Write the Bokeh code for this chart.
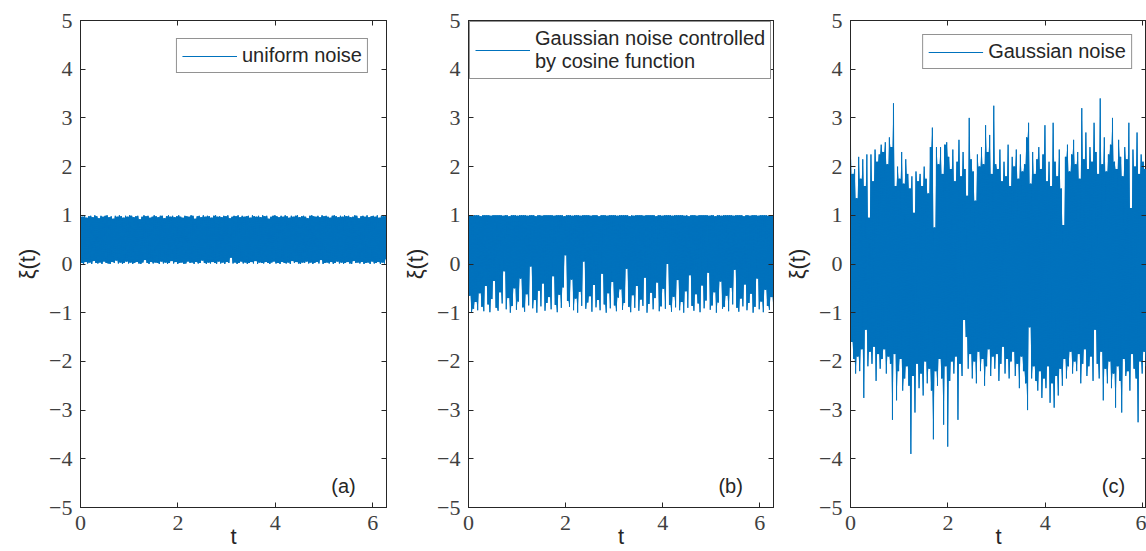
import numpy as np
from bokeh.embed import file_html
from bokeh.layouts import row
from bokeh.models import (CustomJSTickFormatter, FixedTicker, Label, Legend,
                          LegendItem, LinearAxis, Range1d)
from bokeh.plotting import figure
from bokeh.resources import INLINE

# ---------------------------------------------------------------------------
# Noise records over one period t in [0, 2*pi].  Each record is stored as its
# upper and lower excursions (150 each); they are interleaved into one trace.
# ---------------------------------------------------------------------------
x_ticks = [0, 2, 4, 6]
y_ticks = [-5, -4, -3, -2, -1, 0, 1, 2, 3, 4, 5]
legend_labels = ["uniform noise",
                 "Gaussian noise controlled\nby cosine function",
                 "Gaussian noise"]
panel_tags = ["(a)", "(b)", "(c)"]
x_title = "t"
y_title = "\u03be(t)"

uniform_hi = [
    0.99, 0.97, 1.00, 0.95, 0.98, 0.99, 0.96, 1.00, 0.98, 0.94,
    0.99, 0.97, 0.99, 1.00, 0.96, 0.98, 0.93, 0.99, 0.97, 1.00,
    0.98, 0.95, 0.99, 0.97, 1.00, 0.99, 0.96, 0.98, 0.99, 0.92,
    0.97, 1.00, 0.98, 0.99, 0.95, 0.97, 1.00, 0.98, 0.96, 0.99,
    0.99, 0.94, 0.98, 1.00, 0.97, 0.99, 0.96, 0.98, 1.00, 0.97,
    0.95, 0.99, 0.98, 0.97, 1.00, 0.99, 0.93, 0.98, 0.99, 0.96,
    1.00, 0.97, 0.99, 0.98, 0.95, 0.99, 1.00, 0.97, 0.98, 0.96,
    0.99, 0.98, 1.00, 0.94, 0.97, 0.99, 0.98, 1.00, 0.96, 0.99,
    0.97, 0.98, 0.99, 0.95, 1.00, 0.98, 0.97, 0.99, 0.96, 1.00,
    0.98, 0.99, 0.93, 0.97, 0.99, 1.00, 0.98, 0.96, 0.99, 0.97,
    1.00, 0.98, 0.95, 0.99, 0.97, 0.99, 1.00, 0.96, 0.98, 0.99,
    0.97, 0.94, 0.99, 1.00, 0.98, 0.97, 0.99, 0.96, 1.00, 0.98,
    0.99, 0.97, 0.95, 0.99, 1.00, 0.98, 0.96, 0.99, 0.97, 1.00,
    0.98, 0.99, 0.96, 0.97, 1.00, 0.99, 0.94, 0.98, 0.99, 0.97,
    1.00, 0.96, 0.98, 0.99, 0.97, 1.00, 0.95, 0.99, 0.98, 0.99,
]
uniform_lo = [
    0.02, 0.00, 0.04, 0.01, 0.03, 0.00, 0.06, 0.02, 0.01, 0.03,
    0.00, 0.05, 0.02, 0.01, 0.00, 0.04, 0.02, 0.07, 0.01, 0.03,
    0.00, 0.02, 0.05, 0.01, 0.03, 0.00, 0.02, 0.04, 0.01, 0.00,
    0.03, 0.08, 0.02, 0.00, 0.04, 0.01, 0.03, 0.02, 0.00, 0.05,
    0.01, 0.03, 0.00, 0.02, 0.06, 0.01, 0.04, 0.00, 0.02, 0.03,
    0.00, 0.01, 0.05, 0.02, 0.03, 0.00, 0.04, 0.01, 0.02, 0.07,
    0.02, 0.00, 0.03, 0.01, 0.04, 0.02, 0.00, 0.05, 0.01, 0.03,
    0.00, 0.04, 0.02, 0.13, 0.01, 0.03, 0.00, 0.02, 0.05, 0.01,
    0.03, 0.00, 0.02, 0.04, 0.01, 0.06, 0.00, 0.03, 0.02, 0.01,
    0.04, 0.02, 0.00, 0.03, 0.05, 0.01, 0.02, 0.00, 0.04, 0.02,
    0.01, 0.03, 0.00, 0.06, 0.02, 0.04, 0.01, 0.00, 0.03, 0.02,
    0.05, 0.01, 0.03, 0.00, 0.02, 0.04, 0.01, 0.08, 0.00, 0.02,
    0.03, 0.01, 0.04, 0.00, 0.02, 0.05, 0.01, 0.03, 0.00, 0.02,
    0.04, 0.01, 0.00, 0.06, 0.02, 0.03, 0.01, 0.04, 0.00, 0.02,
    0.03, 0.00, 0.05, 0.01, 0.02, 0.04, 0.00, 0.03, 0.01, 0.10,
]

cosine_hi = [
    1.00, 1.00, 0.99, 1.00, 1.00, 1.00, 0.98, 1.00, 1.00, 1.00,
    1.00, 0.99, 1.00, 1.00, 1.00, 1.00, 1.00, 0.99, 1.00, 1.00,
    0.98, 1.00, 1.00, 1.00, 0.99, 1.00, 1.00, 1.00, 1.00, 0.99,
    1.00, 1.00, 1.00, 0.98, 1.00, 1.00, 0.99, 1.00, 1.00, 1.00,
    1.00, 1.00, 0.99, 1.00, 1.00, 1.00, 1.00, 0.98, 1.00, 1.00,
    1.00, 0.99, 1.00, 1.00, 1.00, 0.99, 1.00, 1.00, 1.00, 1.00,
    0.99, 1.00, 1.00, 1.00, 0.98, 1.00, 1.00, 1.00, 0.99, 1.00,
    1.00, 1.00, 1.00, 0.99, 1.00, 1.00, 1.00, 1.00, 1.00, 0.98,
    1.00, 0.99, 1.00, 1.00, 1.00, 1.00, 0.99, 1.00, 1.00, 1.00,
    1.00, 1.00, 0.98, 1.00, 1.00, 0.99, 1.00, 1.00, 1.00, 1.00,
    0.99, 1.00, 1.00, 1.00, 1.00, 1.00, 0.99, 1.00, 0.98, 1.00,
    1.00, 1.00, 0.99, 1.00, 1.00, 1.00, 1.00, 1.00, 0.99, 1.00,
    1.00, 0.98, 1.00, 1.00, 0.99, 1.00, 1.00, 1.00, 1.00, 1.00,
    0.99, 1.00, 1.00, 1.00, 1.00, 0.98, 1.00, 1.00, 0.99, 1.00,
    1.00, 1.00, 0.99, 1.00, 1.00, 1.00, 1.00, 0.99, 1.00, 1.00,
]
cosine_lo = [
    -0.65, -1.00, -0.92, -0.78, -0.95, -0.60, -0.88, -0.97, -0.45, -0.83,
    -0.99, -0.72, -0.35, -0.90, -0.96, -0.58, -0.81, -0.15, -0.93, -0.70,
    -1.00, -0.86, -0.50, -0.94, -0.77, -0.30, -0.89, -0.98, -0.62, -0.85,
    -0.05, -0.91, -0.74, -1.00, -0.55, -0.87, -0.40, -0.96, -0.80, -0.68,
    -0.93, -0.25, -0.84, -0.99, -0.63, -0.90, -0.48, 0.18, -0.76, -0.88,
    -0.32, -0.95, -0.71, -1.00, -0.57, -0.86, 0.05, -0.92, -0.79, -0.66,
    -0.98, -0.43, -0.89, -0.74, -0.95, -0.20, -0.83, -1.00, -0.60, -0.91,
    -0.37, -0.85, -0.97, -0.69, -0.52, -0.94, -0.80, -0.10, -0.88, -0.99,
    -0.64, -0.90, -0.45, -0.96, -0.73, -0.86, -0.28, -1.00, -0.82, -0.59,
    -0.93, -0.70, -0.38, -0.97, -0.87, -0.51, -0.92, 0.00, -0.84, -0.98,
    -0.67, -0.89, -0.33, -0.95, -0.78, -1.00, -0.56, -0.90, -0.23, -0.86,
    -0.96, -0.62, -0.81, -0.99, -0.44, -0.91, -0.75, -0.18, -0.94, -0.85,
    -0.58, -1.00, -0.79, -0.36, -0.92, -0.88, -0.65, -0.97, -0.49, -0.83,
    -0.12, -0.90, -0.98, -0.71, -0.87, -0.42, -0.95, -0.80, -0.61, -1.00,
    -0.88, -0.30, -0.93, -0.77, -0.99, -0.53, -0.86, -0.94, -0.68, -0.90,
]

gauss_hi = [
    2.50, 1.85, 1.95, 1.35, 2.20, 1.75, 2.15, 1.60, 2.25, 0.95,
    2.25, 1.70, 2.35, 2.10, 2.25, 2.45, 2.30, 2.50, 2.05, 2.60,
    2.40, 3.30, 1.60, 2.00, 1.75, 2.30, 1.65, 2.15, 1.85, 1.55,
    1.80, 1.05, 1.90, 1.70, 1.85, 1.60, 2.00, 1.75, 1.45, 2.40,
    2.80, 0.75, 2.40, 2.05, 2.40, 1.85, 2.45, 2.50, 2.20, 1.95,
    2.35, 1.70, 2.10, 2.55, 1.80, 2.30, 1.95, 1.40, 3.00, 2.15,
    1.90, 1.30, 2.25, 2.00, 2.40, 2.05, 2.85, 2.30, 2.65, 1.85,
    3.25, 2.05, 1.95, 2.35, 1.70, 2.10, 1.80, 2.45, 1.60, 2.20,
    2.00, 2.35, 1.75, 2.25, 1.90, 2.05, 2.60, 2.90, 1.65, 2.30,
    1.85, 2.15, 2.40, 1.95, 2.25, 2.85, 1.70, 2.10, 1.60, 2.90,
    2.10, 1.80, 2.35, 1.55, 0.80, 2.20, 2.45, 1.90, 2.25, 2.55,
    2.05, 2.30, 1.75, 3.20, 2.15, 2.70, 1.95, 2.40, 2.10, 2.90,
    2.30, 1.85, 3.40, 2.05, 2.60, 1.90, 2.25, 2.45, 3.00, 2.10,
    1.95, 2.55, 2.20, 1.80, 2.40, 2.15, 2.90, 1.15, 2.35, 2.00,
    2.70, 1.85, 2.25, 2.10, 1.95, 2.40, 2.05, 1.75, 2.30, 2.00,
]
gauss_lo = [
    -1.60, -1.95, -2.25, -1.90, -2.20, -1.75, -2.75, -1.35, -2.10, -1.80,
    -2.05, -1.70, -2.40, -1.85, -2.15, -1.95, -1.75, -2.25, -1.90, -2.05,
    -3.20, -1.85, -2.80, -2.20, -1.95, -2.60, -2.35, -2.10, -2.50, -3.90,
    -2.30, -3.05, -2.05, -2.55, -2.25, -2.70, -2.00, -2.45, -2.15, -2.60,
    -3.60, -2.20, -2.50, -1.95, -2.35, -3.30, -2.10, -3.75, -2.40, -2.00,
    -2.25, -1.90, -3.20, -2.05, -2.30, -1.15, -1.50, -2.15, -1.85, -2.35,
    -2.00, -2.45, -1.80, -2.20, -1.95, -2.50, -2.10, -1.75, -2.30, -1.90,
    -2.15, -1.85, -2.40, -2.05, -1.70, -2.25, -1.95, -2.35, -2.00, -1.80,
    -2.30, -2.05, -2.55, -1.90, -2.20, -2.45, -3.00, -1.30, -2.35, -2.10,
    -2.40, -2.60, -2.20, -2.75, -2.35, -2.55, -2.10, -2.85, -2.45, -2.95,
    -2.30, -2.70, -2.15, -2.50, -1.95, -2.35, -2.10, -1.80, -2.25, -2.00,
    -2.20, -1.85, -2.45, -2.05, -1.75, -2.30, -2.10, -1.90, -2.40, -1.35,
    -2.05, -2.35, -1.80, -2.80, -2.15, -2.45, -2.00, -2.55, -2.25, -2.95,
    -2.10, -2.40, -3.05, -1.95, -2.30, -2.20, -2.60, -1.85, -2.15, -2.35,
    -3.25, -2.00, -2.25, -1.80, -2.10, -1.95, -2.40, -2.05, -1.90, -2.20,
]

BLUE = "#0072BD"
INK = "#262626"
TICK_INK = "#404040"
T_END = 2 * np.pi
PX_PER_UNIT = 306 / T_END          # horizontal scale shared by all panels


def trace(hi, lo):
    """Interleave upper/lower excursions into one sampled record."""
    y = np.empty(len(hi) + len(lo))
    y[0::2] = hi
    y[1::2] = lo
    t = np.linspace(0, T_END, len(y))
    return t, y


def band(hi, lo):
    """Solid core under the trace: on every sample the fill spans the
    tightest of the adjacent excursions, so isolated spikes stay thin."""
    hi = np.asarray(hi, float)
    lo = np.asarray(lo, float)
    upper = np.empty(2 * len(hi))
    lower = np.empty(2 * len(lo))
    upper[0::2] = hi
    upper[1:-1:2] = np.minimum(hi[:-1], hi[1:])
    upper[-1] = hi[-1]
    lower[1::2] = lo
    lower[2::2] = np.maximum(lo[:-1], lo[1:])
    lower[0] = lo[0]
    return upper, lower


def no_labels():
    return CustomJSTickFormatter(code="return '';")


def make_panel(hi, lo, label, tag, width, border_left, border_right,
               frame_width, legend_loc, legend_margin, closed_right=True):
    x_end = frame_width / PX_PER_UNIT
    p = figure(width=width, height=551,
               x_range=Range1d(0, x_end), y_range=Range1d(-5, 5),
               output_backend="svg", toolbar_location=None,
               min_border_left=border_left, min_border_right=border_right,
               min_border_top=20, min_border_bottom=44,
               background_fill_color="white", border_fill_color="white")
    p.xgrid.visible = False
    p.ygrid.visible = False
    p.outline_line_color = INK if closed_right else None
    p.outline_line_width = 1

    t, y = trace(hi, lo)
    upper, lower = band(hi, lo)
    p.varea(x=t, y1=lower, y2=upper, fill_color=BLUE, fill_alpha=1.0)
    r = p.line(t, y, line_color=BLUE, line_width=1.0)

    minus_fmt = CustomJSTickFormatter(
        code="return tick < 0 ? '\\u2212' + (-tick) : String(tick);")

    for ax, ticks in ((p.xaxis[0], x_ticks), (p.yaxis[0], y_ticks)):
        ax.ticker = FixedTicker(ticks=ticks)
        ax.formatter = minus_fmt
        ax.major_tick_in = 5
        ax.major_tick_out = 0
        ax.minor_tick_line_color = None
        ax.axis_line_color = INK
        ax.major_tick_line_color = INK
        ax.major_label_text_font = "Liberation Serif"
        ax.major_label_text_font_size = "22px"
        ax.major_label_text_color = TICK_INK
        ax.axis_label_text_font = "Liberation Sans"
        ax.axis_label_text_font_size = "22px"
        ax.axis_label_text_font_style = "normal"
        ax.axis_label_text_color = INK

    xa = p.xaxis[0]
    xa.axis_label = x_title
    xa.major_label_standoff = 8
    xa.axis_label_standoff = -9
    p.yaxis[0].axis_label = y_title
    p.yaxis[0].major_label_standoff = 8
    p.yaxis[0].axis_label_standoff = 6

    # mirrored inward ticks on the top (and right) edges of the box
    top = LinearAxis(ticker=FixedTicker(ticks=x_ticks), formatter=no_labels(),
                     major_label_text_font_size="8px", major_label_standoff=0,
                     major_tick_in=5, major_tick_out=0,
                     minor_tick_line_color=None,
                     axis_line_color=INK, major_tick_line_color=INK)
    p.add_layout(top, "above")
    if closed_right:
        right = LinearAxis(ticker=FixedTicker(ticks=y_ticks),
                           formatter=no_labels(),
                           major_label_text_font_size="8px",
                           major_label_standoff=0,
                           major_tick_in=5, major_tick_out=0,
                           minor_tick_line_color=None,
                           axis_line_color=INK, major_tick_line_color=INK)
        p.add_layout(right, "right")

    legend = Legend(items=[LegendItem(label=label, renderers=[r])],
                    location=legend_loc, margin=legend_margin,
                    label_text_font="Liberation Sans",
                    label_text_font_size="20px",
                    label_text_color=INK,
                    glyph_width=55, glyph_height=20,
                    padding=5, label_standoff=5, spacing=0,
                    border_line_color=INK, border_line_width=1,
                    background_fill_color="white", background_fill_alpha=1)
    p.add_layout(legend)

    p.add_layout(Label(x=5.4, y=-4.55, text=tag,
                       text_font="Liberation Sans", text_font_size="20px",
                       text_color=INK, text_align="center",
                       text_baseline="middle"))
    return p


pa = make_panel(uniform_hi, uniform_lo, legend_labels[0], panel_tags[0],
                width=400, border_left=80, border_right=14, frame_width=306,
                legend_loc="top_right", legend_margin=18)
pb = make_panel(cosine_hi, cosine_lo, legend_labels[1], panel_tags[1],
                width=380, border_left=67, border_right=7, frame_width=306,
                legend_loc="top_left", legend_margin=1)
pc = make_panel(gauss_hi, gauss_lo, legend_labels[2], panel_tags[2],
                width=366, border_left=70, border_right=0, frame_width=296,
                legend_loc="top_right", legend_margin=14)

layout = row(pa, pb, pc, spacing=0)

open("out.html", "w").write(file_html(layout, INLINE))
